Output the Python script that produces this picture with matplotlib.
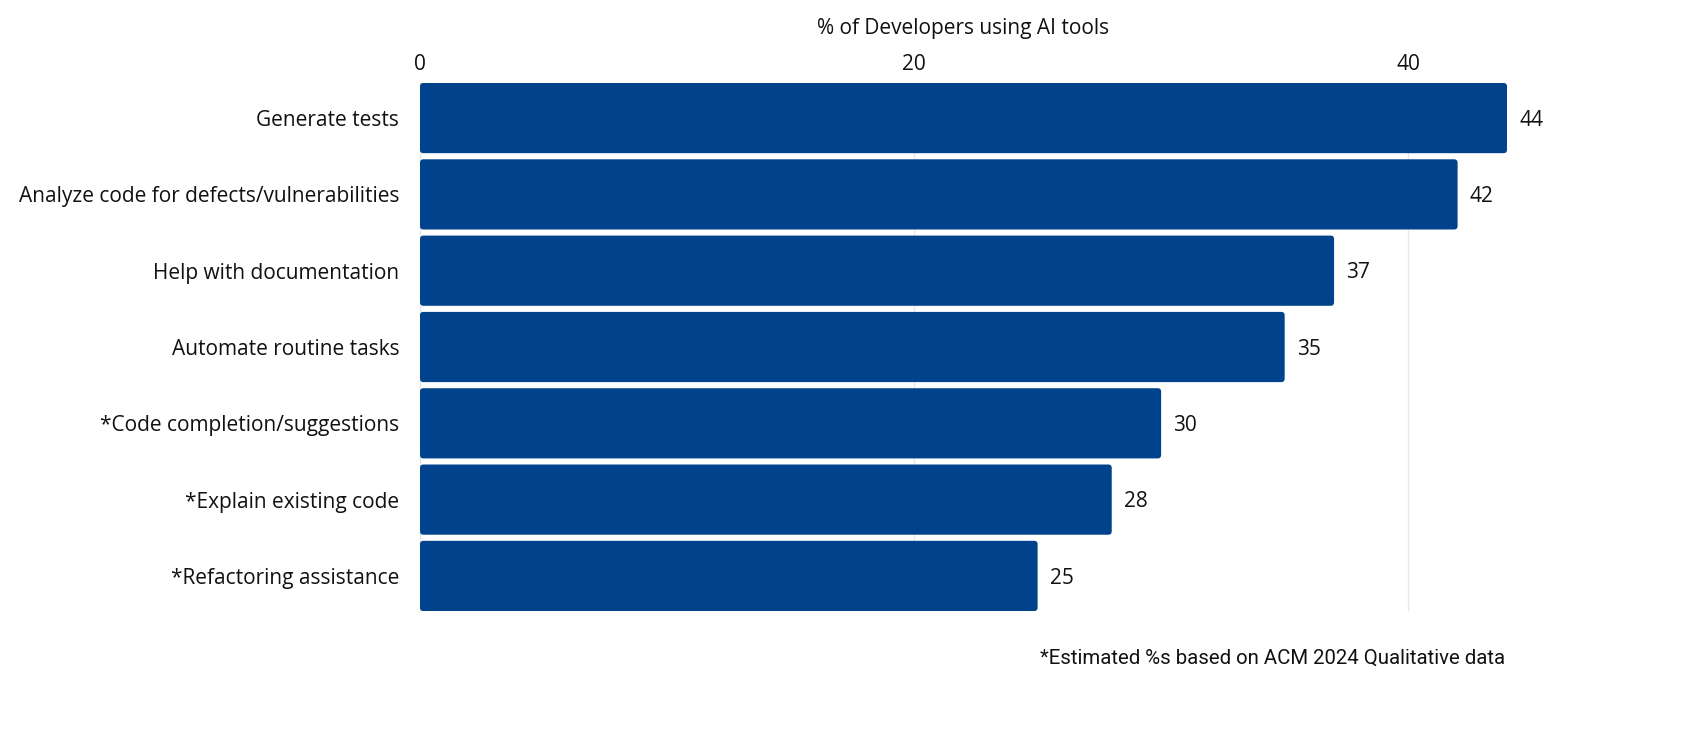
import matplotlib.pyplot as plt
from matplotlib.patches import FancyBboxPatch

# ---------------------------------------------------------------------------
# Data
# ---------------------------------------------------------------------------
categories = [
    "Generate tests",
    "Analyze code for defects/vulnerabilities",
    "Help with documentation",
    "Automate routine tasks",
    "*Code completion/suggestions",
    "*Explain existing code",
    "*Refactoring assistance",
]
values = [44, 42, 37, 35, 30, 28, 25]
x_ticks = [0, 20, 40]

BAR_COLOUR = "#00438c"
FONT = ["Open Sans", "DejaVu Sans"]
FONT_SIZE = 15

plt.rcParams["font.family"] = FONT

fig = plt.figure(figsize=(17.04, 7.33), dpi=100)
ax = fig.add_axes([420 / 1704, 0.1664, (1507 - 420) / 1704, 0.8868 - 0.1664])

ypos = list(range(len(categories)))
bars = ax.barh(ypos, values, height=0.92, color=BAR_COLOUR)

# swap the plain rectangles for slightly rounded ones
aspect = (1 / 76.3) / (1 / 24.7)
for b in bars:
    b.set_visible(False)
    patch = FancyBboxPatch((b.get_x(), b.get_y()), b.get_width(), b.get_height(),
                           boxstyle="round,pad=0,rounding_size=0.14",
                           mutation_aspect=aspect,
                           facecolor=BAR_COLOUR, edgecolor="none", zorder=3)
    ax.add_patch(patch)

for y, v in zip(ypos, values):
    ax.text(v + 0.5, y + 0.03, f"{v}", va="center", ha="left",
            fontsize=FONT_SIZE, color="#111111")

ax.set_xlim(0, 44)
ax.set_ylim(len(categories) - 0.54, -0.46)
ax.set_yticks(ypos)
ax.set_yticklabels(categories, fontsize=FONT_SIZE, color="#111111")
ax.set_xticks(x_ticks)
ax.xaxis.tick_top()
ax.xaxis.set_label_position("top")
ax.tick_params(axis="x", labelsize=FONT_SIZE, length=0, pad=6, colors="#111111")
ax.tick_params(axis="y", length=0, pad=15)
ax.set_xlabel("% of Developers using AI tools", fontsize=15, labelpad=14, color="#111111")

ax.grid(axis="x", color="#e8e8e8", linewidth=1, zorder=0)
ax.set_axisbelow(True)
for side in ["top", "right", "bottom"]:
    ax.spines[side].set_visible(False)
ax.spines["left"].set_color("#dfe3ea")

fig.text(1505 / 1704, 1 - 658 / 733, "*Estimated %s based on ACM 2024 Qualitative data",
         ha="right", va="center", fontsize=14.7, family=["Roboto", "DejaVu Sans"],
         color="#111111")

fig.savefig("out.png", dpi=100, facecolor="white")
